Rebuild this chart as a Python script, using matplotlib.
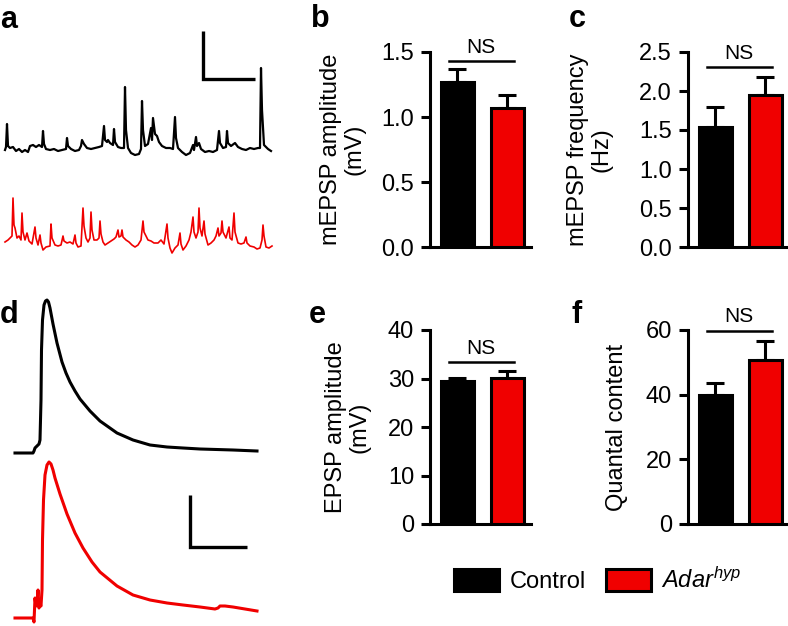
import matplotlib
matplotlib.use("Agg")
import matplotlib.pyplot as plt
from matplotlib.patches import Patch

plt.rcParams["font.family"] = ["Liberation Sans", "DejaVu Sans"]
plt.rcParams["mathtext.fontset"] = "custom"
plt.rcParams["mathtext.rm"] = "Liberation Sans"
plt.rcParams["mathtext.it"] = "Liberation Sans:italic"

W, H = 788, 626
CTRL = "black"
ADAR = "#f00000"

groups = ["Control", "$Adar^{hyp}$"]

# b-f: bar values (mean, upper error)
mepsp_amp = [1.27, 1.07]
mepsp_amp_err = [0.10, 0.10]
mepsp_freq = [1.54, 1.95]
mepsp_freq_err = [0.25, 0.23]
epsp_amp = [29.5, 30.2]
epsp_amp_err = [0.7, 1.4]
quantal = [39.9, 50.7]
quantal_err = [3.7, 5.9]

# a: spontaneous minis (time a.u., voltage a.u. relative to baseline)
mini_ctrl = [(0, 0), (1, 3), (2, 26), (3, 4), (5, 2), (8, 3), (11, -1), (14, 1), (17, -2), (20, 0),
             (23, -2), (25, 4), (28, 5), (31, 3), (34, 5), (37, 3), (38, 19), (39, 6), (41, 1),
             (45, 0), (49, 1), (53, -1), (57, 0), (61, 1), (62, 12), (63, 4), (66, 1), (70, -1),
             (74, 0), (76, 4), (77, 10), (79, 6), (82, 2), (86, 1), (90, 2), (94, 3), (97, 4),
             (99, 24), (100, 10), (102, 8), (103, 10), (105, 7), (108, 5), (109, 21), (110, 8),
             (113, 3), (116, 2), (119, 2), (120, 63), (121, 20), (123, 2), (126, -3), (130, -5),
             (134, -4), (136, 1), (137, 49), (138, 20), (140, 4), (143, 6), (146, 22), (147, 10),
             (148, 32), (150, 16), (152, 14), (154, 8), (157, 4), (161, 2), (165, 2), (168, 1),
             (170, 33), (171, 12), (173, 2), (177, -2), (181, -5), (185, -3), (188, 5), (189, 0),
             (191, 13), (192, 4), (194, 7), (196, 1), (200, -2), (204, -1), (208, -2), (212, 0),
             (214, 19), (215, 7), (218, 2), (221, 3), (222, 19), (223, 7), (226, 4), (230, 7),
             (233, 3), (237, 1), (241, 0), (245, 2), (249, 1), (253, 2), (255, 2), (256, 82),
             (257, 40), (259, 5), (261, 3), (263, 1), (266, -1)]
mini_adar = [(0, 0), (3, 2), (5, 4), (7, 6), (8, 44), (9, 17), (10, 14), (12, 4), (14, 6), (16, 2),
             (17, 29), (18, 10), (20, 2), (22, 9), (24, 1), (27, -2), (30, 15), (31, 4), (33, -3),
             (35, 7), (36, -1), (38, -8), (41, -5), (45, -4), (46, 18), (47, 4), (50, -3), (53, -4),
             (56, -3), (58, 6), (59, 1), (62, -1), (65, 0), (68, -2), (70, 7), (71, -1), (73, -5),
             (76, -4), (78, 34), (79, 16), (81, 4), (83, 0), (85, 4), (86, 30), (87, 12), (89, 2),
             (92, 2), (94, 4), (95, 21), (96, 8), (98, 0), (100, -3), (103, -1), (106, 1), (109, 3),
             (111, 5), (113, 12), (114, 5), (116, 6), (117, 12), (118, 5), (121, 2), (124, 0),
             (127, -3), (130, -5), (133, -3), (136, 2), (138, 21), (139, 10), (141, 6), (143, 2),
             (146, 1), (149, -1), (153, -1), (156, 2), (159, -2), (162, 18), (163, 4), (165, -6),
             (167, -11), (170, -6), (173, -3), (175, 9), (176, -2), (178, -8), (181, -4), (184, 2),
             (186, 10), (188, 25), (189, 10), (191, 4), (193, 10), (194, 34), (195, 14), (197, 6),
             (199, 21), (200, 8), (203, -3), (206, -1), (209, 2), (211, 6), (213, 14), (214, 6),
             (216, 9), (217, 21), (218, 10), (221, 4), (224, 15), (225, 4), (227, 2), (229, 29),
             (230, 10), (233, -1), (236, -2), (239, -1), (241, 5), (242, -1), (245, -4), (249, -5),
             (252, -7), (255, -6), (257, 2), (258, 17), (259, 6), (261, -5), (264, -6), (267, -4)]

# d: evoked EPSPs (time a.u., voltage a.u. relative to baseline)
epsp_ctrl = [(0, 0), (18, 0), (19, 2), (20, 5), (22, 7), (24, 9), (25, 13), (26, 53), (26.5, 103),
             (27.5, 133), (29, 148), (30.5, 152), (32, 153), (33.5, 151), (35, 145), (38, 129),
             (42, 110), (47, 91), (51, 80), (55, 71), (60, 62), (65, 54), (75, 42), (85, 32),
             (102, 20), (118, 13), (135, 8), (152, 6), (168, 5), (185, 4), (218, 3), (242, 2)]
epsp_adar = [(0, 0), (18, 0), (19, -4), (20, 20), (21, 12), (22, 15), (23, 28), (24, 10), (25, 14),
             (26, 12), (27, 28), (27.5, 78), (28.5, 118), (30, 143), (32, 153), (34, 156), (36, 154),
             (38, 148), (40, 140), (45, 124), (52, 104), (60, 85), (68, 70), (77, 56), (85, 46),
             (102, 32), (118, 23), (135, 18), (152, 15), (168, 13), (185, 11), (200, 9), (203, 10),
             (205, 12), (210, 12), (218, 11), (242, 7)]

# scale bars (a.u.)
mini_bar_t, mini_bar_v = 52, 48
epsp_bar_t, epsp_bar_v = 57, 52


def box(left, top, right, bottom):
    return [left / W, 1 - bottom / H, (right - left) / W, (bottom - top) / H]


fig = plt.figure(figsize=(W / 100, H / 100), dpi=100)

# ---- a ----
ax = fig.add_axes(box(0, 0, 290, 270))
t, v = zip(*mini_ctrl)
ax.plot(t, v, color=CTRL, lw=1.6)
t, v = zip(*mini_adar)
ax.plot(t, [x - 92 for x in v], color=ADAR, lw=1.2)
ax.plot([198, 198, 198 + mini_bar_t], [71 + mini_bar_v, 71, 71], color="black", lw=2.4,
        solid_capstyle="butt", solid_joinstyle="miter")
ax.set_xlim(-5, 285)
ax.set_ylim(-120, 150)
ax.axis("off")

# ---- d ----
ax = fig.add_axes(box(0, 280, 290, 626))
t, v = zip(*epsp_ctrl)
ax.plot(t, v, color=CTRL, lw=2.2)
t, v = zip(*epsp_adar)
ax.plot(t, [x - 165 for x in v], color=ADAR, lw=2.2)
ax.plot([175, 175, 175 + epsp_bar_t], [-94 + epsp_bar_v, -94, -94], color="black", lw=2.4,
        solid_capstyle="butt", solid_joinstyle="miter")
ax.set_xlim(-15, 275)
ax.set_ylim(-173, 173)
ax.axis("off")


def bar_panel(rect, means, errs, top, step, fmt, ylabel, label_x, ns_y):
    ax = fig.add_axes(rect)
    x = [0, 1]
    ax.bar(x, means, width=0.66, color=[CTRL, ADAR], edgecolor="black", linewidth=2.2, zorder=3)
    ax.errorbar(x, means, yerr=[[0, 0], errs], fmt="none", ecolor="black", elinewidth=2.2,
                capsize=6.5, capthick=2.2, zorder=2)
    ax.set_xlim(-0.54, 1.48)
    ax.set_ylim(0, top)
    n = int(round(top / step))
    ticks = [i * step for i in range(n + 1)]
    ax.set_yticks(ticks)
    ax.set_yticklabels([fmt.format(tk) for tk in ticks])
    ax.set_xticks([])
    for s in ["top", "right"]:
        ax.spines[s].set_visible(False)
    for s in ["left", "bottom"]:
        ax.spines[s].set_linewidth(2.2)
    ax.tick_params(axis="y", width=2.2, length=6.5, pad=5, labelsize=17)
    ax.set_ylabel(ylabel, fontsize=17, linespacing=1.1)
    ax.yaxis.set_label_coords(label_x, 0.5)
    ax.plot([-0.17, 1.13], [ns_y, ns_y], color="black", lw=1.8, clip_on=False)
    ax.annotate("NS", xy=(0.48, ns_y), xytext=(0, 3), textcoords="offset points",
                ha="center", va="bottom", fontsize=15, annotation_clip=False)
    return ax


bar_panel(box(430, 52, 531, 247), mepsp_amp, mepsp_amp_err, 1.5, 0.5, "{:.1f}",
          "mEPSP amplitude\n(mV)", -0.64, 1.43)
bar_panel(box(688, 52, 789, 247), mepsp_freq, mepsp_freq_err, 2.5, 0.5, "{:.1f}",
          "mEPSP frequency\n(Hz)", -0.75, 2.31)
bar_panel(box(430, 330, 531, 524), epsp_amp, epsp_amp_err, 40, 10, "{:.0f}",
          "EPSP amplitude\n(mV)", -0.59, 33.4)
bar_panel(box(688, 330, 789, 524), quantal, quantal_err, 60, 20, "{:.0f}",
          "Quantal content", -0.59, 59.8)

# panel letters
for letter, px, py in [("a", 0, 28), ("b", 311, 27), ("c", 569, 27),
                       ("d", 0, 323), ("e", 309, 323), ("f", 572, 323)]:
    fig.text(px / W, 1 - py / H, letter, fontsize=22, fontweight="bold", ha="left", va="baseline")

handles = [Patch(facecolor=CTRL, edgecolor="black", linewidth=2.2),
           Patch(facecolor=ADAR, edgecolor="black", linewidth=2.2)]
fig.legend(handles, groups, loc="center", bbox_to_anchor=(598 / W, 1 - 580 / H), ncol=2,
           frameon=False, fontsize=17, handlelength=1.9, handleheight=1.05,
           handletextpad=0.45, columnspacing=0.85)

fig.savefig("out.png", dpi=100)
